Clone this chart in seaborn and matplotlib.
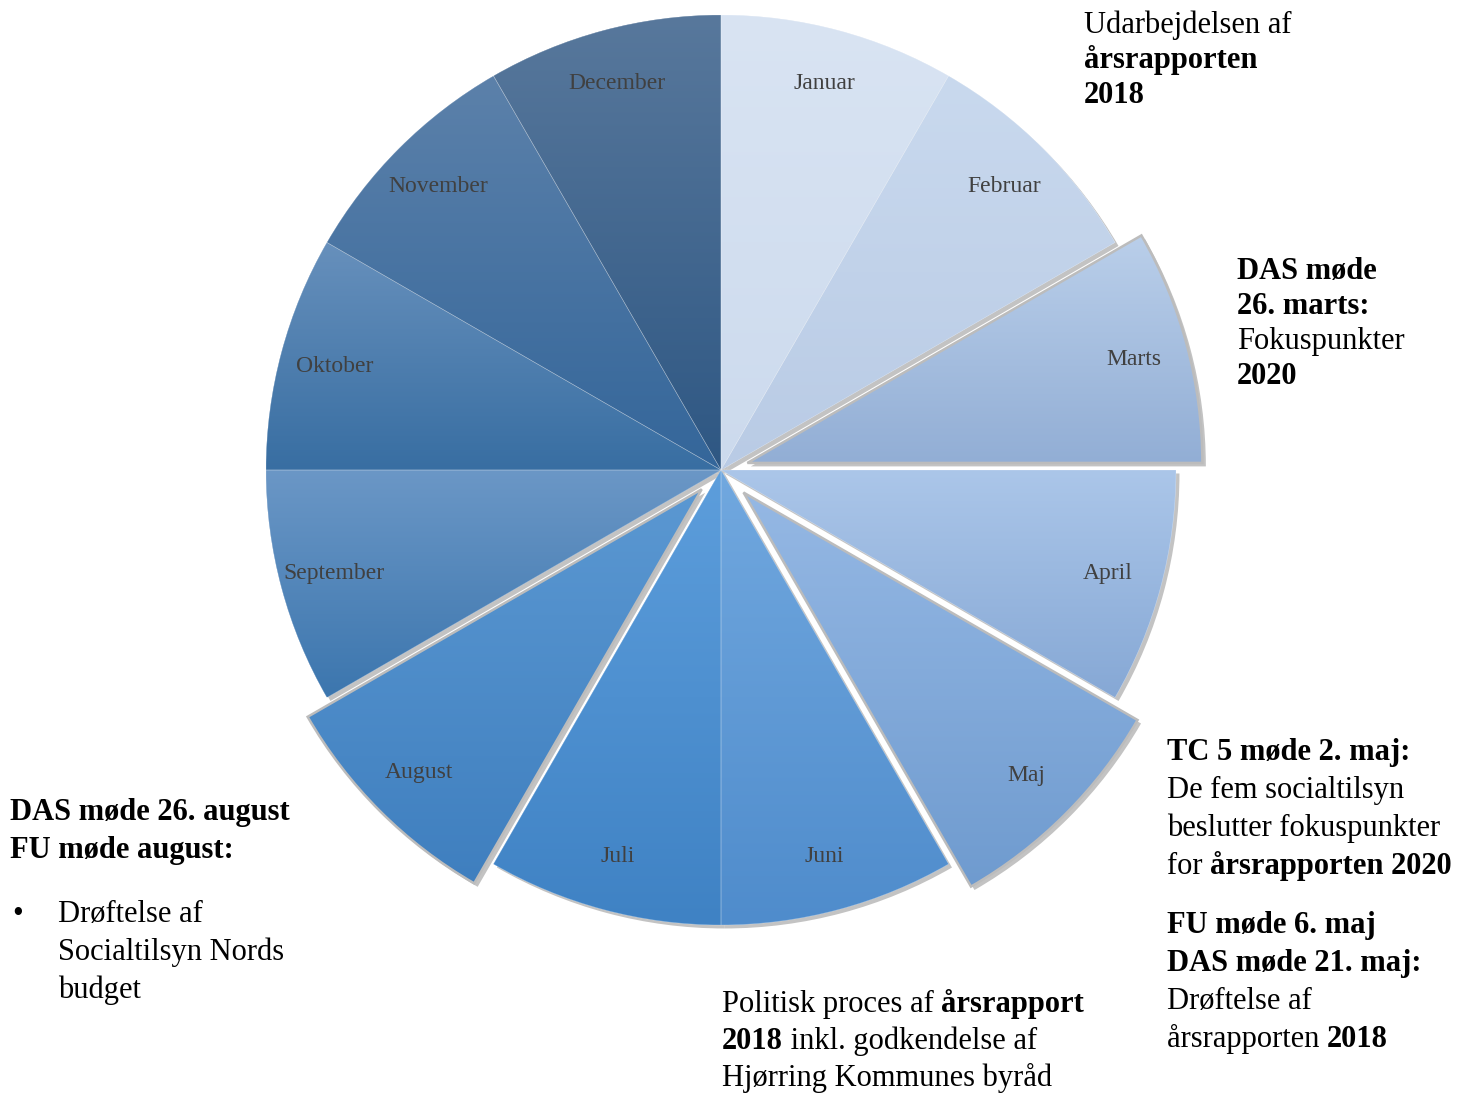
import matplotlib
matplotlib.use('Agg')
import numpy as np
import matplotlib.pyplot as plt
import matplotlib.patches as mpatches
import matplotlib.patheffects as pe
import seaborn as sns

# Årshjul: 12 lige store måneder
W, H = 1472, 1095

months = ['Januar', 'Februar', 'Marts', 'April', 'Maj', 'Juni', 'Juli',
          'August', 'September', 'Oktober', 'November', 'December']
shares = [1] * 12
explode = [0, 0, 0.06, 0, 0.07, 0, 0, 0.06, 0, 0, 0, 0]  # andel af radius

# farveforløb pr. måned (top -> bund)
top_colors = ['#d9e4f3', '#c9d9ee', '#bacfea', '#abc6e9', '#95b8e4', '#71a8df',
              '#5d9edc', '#5b98d2', '#6b97c6', '#6790bc', '#5c81aa', '#58789c']
bottom_colors = ['#ccdaed', '#b9cbe5', '#92aed5', '#86a8d5', '#6f9bcf', '#4f8ccc',
                 '#3f82c4', '#3f7fbf', '#3c76ae', '#386ea2', '#34669a', '#2e5783']

# tekstblokke: (x, første baseline, linjeafstand, linjer)
blocks = [
    (1084, 33, 35, [[('Udarbejdelsen af', False)],
                    [('årsrapporten', True)],
                    [('2018', True)]]),
    (1237, 279, 35, [[('DAS møde', True)],
                     [('26. marts:', True)],
                     [('Fokuspunkter', False)],
                     [('2020', True)]]),
    (1167, 760, 38, [[('TC 5 møde 2. maj:', True)],
                     [('De fem socialtilsyn', False)],
                     [('beslutter fokuspunkter', False)],
                     [('for ', False), ('årsrapporten 2020', True)]]),
    (1167, 933, 38, [[('FU møde 6. maj', True)],
                     [('DAS møde 21. maj:', True)],
                     [('Drøftelse af', False)],
                     [('årsrapporten ', False), ('2018', True)]]),
    (722, 1012, 37, [[('Politisk proces af ', False), ('årsrapport', True)],
                     [('2018', True), (' inkl. godkendelse af', False)],
                     [('Hjørring Kommunes byråd', False)]]),
    (10, 820, 38, [[('DAS møde 26. august', True)],
                   [('FU møde august:', True)]]),
    (58, 922, 38, [[('Drøftelse af', False)],
                   [('Socialtilsyn Nords', False)],
                   [('budget', False)]]),
]

sns.set_theme(style='white')
plt.rcParams['font.family'] = ['Liberation Serif', 'DejaVu Serif']

fig = plt.figure(figsize=(W / 100, H / 100), dpi=100)
ax = fig.add_axes([0, 0, 1, 1])

cx, cy, R = 721, H - 470, 455
wedges, texts = ax.pie(shares, labels=months, explode=[e * R for e in explode],
                       startangle=90, counterclock=False, center=(cx, cy), radius=R,
                       labeldistance=0.88,
                       colors=top_colors,
                       wedgeprops=dict(linewidth=0, zorder=1),
                       textprops=dict(fontsize=17, color='#404040', zorder=5))

grad = np.linspace(0, 1, 256).reshape(-1, 1)
for i, w in enumerate(wedges):
    w.set_path_effects([pe.SimplePatchShadow(offset=(2.5, -2.5), shadow_rgbFace='#7a7a7a', alpha=0.45),
                        pe.Normal()])
    ext = w.get_path().get_extents()
    cmap = sns.blend_palette([top_colors[i], bottom_colors[i]], as_cmap=True)
    im = ax.imshow(grad, cmap=cmap, extent=[ext.x0, ext.x1, ext.y0, ext.y1],
                   origin='upper', aspect='auto', zorder=2, interpolation='bilinear')
    im.set_clip_path(w)
    if explode[i] > 0:
        ol = mpatches.Wedge(w.center, w.r, w.theta1, w.theta2, fill=False,
                            edgecolor='#bcbcbc', linewidth=1.8, zorder=3)
    else:
        ol = mpatches.Wedge(w.center, w.r, w.theta1, w.theta2, fill=False,
                            edgecolor='#ffffff', linewidth=0.4, alpha=0.35, zorder=3)
    ax.add_patch(ol)

for t in texts:
    t.set_ha('center')
    t.set_va('center')

ax.set_xlim(0, W)
ax.set_ylim(0, H)
ax.set_aspect('auto')
ax.axis('off')

renderer = fig.canvas.get_renderer()


def run_width(s, bold):
    wt = 'bold' if bold else 'normal'
    t = ax.text(0, 0, s + '|', fontsize=22, fontweight=wt)
    w1 = t.get_window_extent(renderer).width
    t.set_text('|')
    w2 = t.get_window_extent(renderer).width
    t.remove()
    return w1 - w2


for x0, y0, dy, lines in blocks:
    for k, runs in enumerate(lines):
        x = x0
        y = H - (y0 + k * dy)
        for s, bold in runs:
            ax.text(x, y, s, fontsize=22, fontweight='bold' if bold else 'normal',
                    color='black', va='baseline', ha='left', zorder=6)
            x += run_width(s, bold)

# punkttegn
ax.text(12, H - 922, '•', fontsize=22, color='black', va='baseline', ha='left', zorder=6)

fig.savefig('out.png', dpi=100)
